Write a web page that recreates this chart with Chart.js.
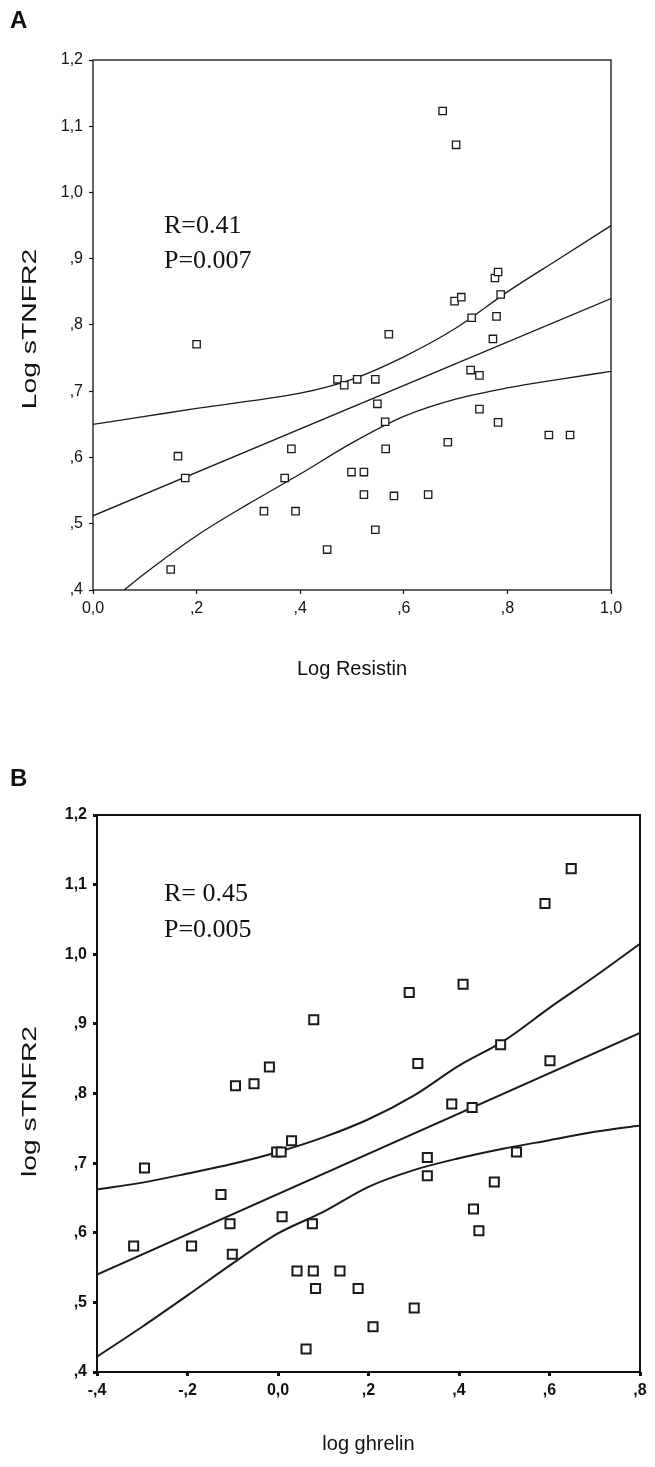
<!DOCTYPE html>
<html>
<head>
<meta charset="utf-8">
<script src="https://cdn.jsdelivr.net/npm/chart.js@4"></script>
<style>
html, body { margin: 0; padding: 0; background: #fff; }
body { width: 655px; height: 1467px; position: relative; overflow: hidden; font-family: "Liberation Sans", Arial, sans-serif; }
.panel { position: absolute; left: 0; width: 655px; }
#wrapA { top: 0; height: 720px; }
#wrapB { top: 740px; height: 727px; }
.tag { position: absolute; left: 10px; font-weight: bold; font-size: 24px; color: #111; }
</style>
</head>
<body>
<div class="panel" id="wrapA"><canvas id="chartA" width="655" height="720"></canvas></div>
<div class="panel" id="wrapB"><canvas id="chartB" width="655" height="727"></canvas></div>
<div class="tag" style="top:6px">A</div>
<div class="tag" style="top:764px">B</div>
<script>
// panel A: log resistin vs log sTNFR2
const resistin = [0.150, 0.164, 0.178, 0.200, 0.330, 0.370, 0.383, 0.391, 0.452, 0.472,
  0.485, 0.499, 0.510, 0.523, 0.523, 0.545, 0.545, 0.549, 0.564, 0.565,
  0.571, 0.581, 0.647, 0.675, 0.685, 0.698, 0.701, 0.711, 0.729, 0.731,
  0.746, 0.746, 0.772, 0.776, 0.779, 0.782, 0.782, 0.787, 0.880, 0.921];
const tnfrA = [0.431, 0.602, 0.569, 0.771, 0.519, 0.569, 0.613, 0.519, 0.461, 0.718,
  0.709, 0.578, 0.718, 0.578, 0.544, 0.718, 0.491, 0.681, 0.654, 0.613,
  0.786, 0.542, 0.544, 1.123, 0.623, 0.836, 1.072, 0.842, 0.732, 0.811,
  0.724, 0.673, 0.779, 0.871, 0.813, 0.880, 0.653, 0.846, 0.634, 0.634];
const fitAx = [0.0, 1.0];
const fitAy = [0.512, 0.840];
const upperAx = [0.0, 0.1, 0.2, 0.3, 0.4, 0.5, 0.6, 0.7, 0.8, 0.9, 1.0];
const upperAy = [0.650, 0.662, 0.674, 0.685, 0.697, 0.718, 0.752, 0.795, 0.850, 0.900, 0.950];
const lowerAx = [0.06, 0.1, 0.2, 0.3, 0.4, 0.5, 0.6, 0.7, 0.8, 0.9, 1.0];
const lowerAy = [0.400, 0.425, 0.482, 0.530, 0.575, 0.622, 0.662, 0.688, 0.705, 0.718, 0.730];

// panel B: log ghrelin vs log sTNFR2
const ghrelin = [-0.319, -0.295, -0.191, -0.126, -0.106, -0.101, -0.094, -0.053, -0.019, -0.003,
  0.007, 0.009, 0.030, 0.042, 0.062, 0.076, 0.078, 0.079, 0.083, 0.137,
  0.177, 0.210, 0.290, 0.301, 0.309, 0.330, 0.330, 0.384, 0.409, 0.429,
  0.432, 0.444, 0.478, 0.492, 0.527, 0.590, 0.601, 0.648];
const tnfrB = [0.581, 0.693, 0.581, 0.655, 0.613, 0.569, 0.811, 0.814, 0.838, 0.716,
  0.716, 0.623, 0.732, 0.545, 0.433, 0.613, 0.545, 0.906, 0.520, 0.545,
  0.520, 0.465, 0.945, 0.492, 0.843, 0.708, 0.682, 0.785, 0.957, 0.780,
  0.634, 0.603, 0.673, 0.870, 0.716, 1.073, 0.847, 1.123];
const fitBx = [-0.4, 0.8];
const fitBy = [0.540, 0.887];
const upperBx = [-0.4, -0.3, -0.2, -0.1, 0.0, 0.1, 0.2, 0.3, 0.4, 0.5, 0.6, 0.7, 0.8];
const upperBy = [0.662, 0.672, 0.685, 0.699, 0.716, 0.737, 0.763, 0.797, 0.840, 0.876, 0.923, 0.968, 1.015];
const lowerBx = [-0.4, -0.3, -0.2, -0.1, 0.0, 0.1, 0.2, 0.3, 0.4, 0.5, 0.6, 0.7, 0.8];
const lowerBy = [0.422, 0.465, 0.510, 0.556, 0.599, 0.630, 0.666, 0.690, 0.707, 0.721, 0.733, 0.745, 0.754];

// tick labels
const yTicks = [",4", ",5", ",6", ",7", ",8", ",9", "1,0", "1,1", "1,2"];
const xTicksA = ["0,0", ",2", ",4", ",6", ",8", "1,0"];
const xTicksB = ["-,4", "-,2", "0,0", ",2", ",4", ",6", ",8"];

Chart.defaults.font.family = '"Liberation Sans", Arial, sans-serif';
Chart.defaults.color = "#111";

const pairs = (xs, ys) => xs.map((x, i) => ({ x: x, y: ys[i] }));

// box round the plot, the R / P notes and the (vertically stretched) y title
const framePlugin = {
  id: "frame",
  afterDatasetsDraw(chart, args, opts) {
    const { ctx, chartArea: a } = chart;
    ctx.save();
    ctx.strokeStyle = "#111";
    ctx.lineWidth = opts.width;
    ctx.strokeRect(a.left, a.top, a.right - a.left, a.bottom - a.top);
    ctx.font = '26px "Liberation Serif", "Times New Roman", serif';
    ctx.fillStyle = "#111";
    ctx.textBaseline = "middle";
    opts.notes.forEach((n) => {
      ctx.fillText(n.text, chart.scales.x.getPixelForValue(n.x), chart.scales.y.getPixelForValue(n.y));
    });
    ctx.restore();

    // y title, the scan is taller than it is wide so the text runs long
    ctx.save();
    ctx.font = '21px "Liberation Sans", Arial, sans-serif';
    ctx.fillStyle = "#111";
    ctx.textAlign = "center";
    ctx.textBaseline = "middle";
    ctx.translate(opts.titleX, (a.top + a.bottom) / 2 + opts.titleShift);
    ctx.rotate(-Math.PI / 2);
    ctx.scale(opts.stretch, 1);
    ctx.fillText(opts.yTitle, 0, 0);
    ctx.restore();
  },
};

const lineSet = (data, w) => ({
  type: "line",
  data: data,
  borderColor: "#1a1a1a",
  borderWidth: w,
  pointRadius: 0,
  fill: false,
  cubicInterpolationMode: "monotone",
});

const makeChart = (id, s) => {
  const ctx = document.getElementById(id);
  const config = {
    type: "scatter",
    data: {
      datasets: [
        {
          data: s.points,
          pointStyle: "rect",
          pointRadius: s.radius,
          pointBorderWidth: s.lw,
          borderColor: "#1a1a1a",
          backgroundColor: "#fff",
        },
        lineSet(s.fit, s.lw),
        lineSet(s.upper, s.lw),
        lineSet(s.lower, s.lw),
      ],
    },
    options: {
      responsive: false,
      animation: false,
      events: [],
      layout: { padding: s.pad },
      plugins: {
        legend: { display: false },
        tooltip: { enabled: false },
        frame: {
          width: s.frameW,
          notes: s.notes,
          yTitle: s.yTitle,
          titleX: 30,
          titleShift: s.titleShift,
          stretch: s.stretch,
        },
      },
      scales: {
        x: {
          type: "linear",
          min: s.xMin,
          max: s.xMax,
          afterFit: (sc) => { sc.height = s.xH; },
          border: { display: false },
          grid: { drawOnChartArea: false, drawTicks: true, tickLength: 4, tickWidth: s.tickW, tickColor: "#111" },
          ticks: {
            stepSize: 0.2,
            autoSkip: false,
            maxRotation: 0,
            padding: 5,
            font: { size: 16, weight: s.tickWeight },
            callback: (v, i) => s.xLabels[i],
          },
          title: { display: true, text: s.xTitle, font: { size: 20 }, padding: { top: 4, bottom: 4 } },
        },
        y: {
          type: "linear",
          min: 0.4,
          max: 1.2,
          afterFit: (sc) => { sc.width = s.yW; },
          border: { display: false },
          grid: { drawOnChartArea: false, drawTicks: true, tickLength: 4, tickWidth: s.tickW, tickColor: "#111" },
          ticks: {
            stepSize: 0.1,
            autoSkip: false,
            padding: 6,
            font: { size: 16, weight: s.tickWeight },
            callback: (v, i) => yTicks[i],
          },
          title: { display: false },
        },
      },
    },
    plugins: [framePlugin],
  };
  return new Chart(ctx, config);
};

makeChart("chartA", {
  points: pairs(resistin, tnfrA),
  fit: pairs(fitAx, fitAy),
  upper: pairs(upperAx, upperAy),
  lower: pairs(lowerAx, lowerAy),
  radius: 5.2,
  lw: 1.3,
  frameW: 1.3,
  tickW: 1.2,
  tickWeight: "normal",
  xMin: 0, xMax: 1,
  xLabels: xTicksA,
  xTitle: "Log Resistin",
  yTitle: "Log sTNFR2",
  titleShift: 4,
  stretch: 1.35,
  xH: 95,
  yW: 93,
  pad: { left: 0, top: 60, right: 44, bottom: 35 },
  notes: [
    { text: "R=0.41", x: 0.137, y: 0.949 },
    { text: "P=0.007", x: 0.137, y: 0.897 },
  ],
});

makeChart("chartB", {
  points: pairs(ghrelin, tnfrB),
  fit: pairs(fitBx, fitBy),
  upper: pairs(upperBx, upperBy),
  lower: pairs(lowerBx, lowerBy),
  radius: 6.4,
  lw: 2,
  frameW: 2,
  tickW: 3,
  tickWeight: "bold",
  xMin: -0.4, xMax: 0.8,
  xLabels: xTicksB,
  xTitle: "log ghrelin",
  yTitle: "log sTNFR2",
  titleShift: 8,
  stretch: 1.35,
  xH: 88,
  yW: 97,
  pad: { left: 0, top: 75, right: 15, bottom: 7 },
  notes: [
    { text: "R= 0.45", x: -0.252, y: 1.086 },
    { text: "P=0.005", x: -0.252, y: 1.034 },
  ],
});
</script>
</body>
</html>
